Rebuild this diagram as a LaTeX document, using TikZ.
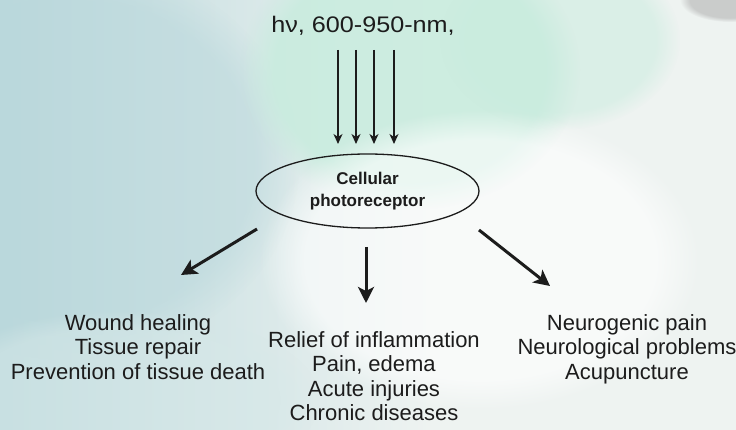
\documentclass[tikz,border=0pt]{standalone}
\usepackage{fontspec}
\setmainfont{Liberation Sans}
\newfontfamily\titlefont[FakeStretch=1.12]{Liberation Sans}
\usetikzlibrary{arrows.meta,shapes.geometric,fadings}
\definecolor{bgbase}{RGB}{238,243,241}
\definecolor{tealL}{RGB}{186,216,220}
\definecolor{mint}{RGB}{200,236,222}
\definecolor{paleT}{RGB}{214,232,232}
\definecolor{inkc}{RGB}{28,28,28}
\tikzset{
  thinarrow/.style={draw=inkc,line width=1.2pt,-{Stealth[length=10pt,width=9pt,inset=3pt]}},
  thickarrow/.style={draw=inkc,line width=3pt,-{Stealth[length=16pt,width=16pt,inset=4pt]}},
  blocktext/.style={text=inkc,font=\fontsize{22}{24.5}\selectfont,align=center,inner sep=0pt},
  receptor/.style={ellipse,draw=inkc,line width=1.3pt,minimum width=223pt,minimum height=74pt,inner sep=0pt,
    align=center,font=\bfseries\fontsize{17}{21.5}\selectfont,text=inkc}
}
\begin{document}
\begin{tikzpicture}[x=1pt,y=-1pt]
\useasboundingbox (0,0) rectangle (736,430);
% background wash
\fill[bgbase] (0,0) rectangle (736,430);
\fill[left color=tealL,right color=bgbase] (0,0) rectangle (430,430);
\fill[tealL,path fading=circle with fuzzy edge 20 percent,opacity=0.55] (70,160) ellipse (230 and 200);
\fill[mint,path fading=circle with fuzzy edge 20 percent,opacity=0.85] (410,70) ellipse (170 and 140);
\fill[mint,path fading=circle with fuzzy edge 20 percent,opacity=0.5] (560,40) ellipse (120 and 90);
\fill[white,path fading=circle with fuzzy edge 20 percent,opacity=0.6] (480,260) ellipse (220 and 150);
\fill[paleT,path fading=circle with fuzzy edge 20 percent,opacity=0.5] (120,400) ellipse (200 and 90);
\fill[gray!60,path fading=circle with fuzzy edge 20 percent,opacity=0.6] (730,0) ellipse (50 and 22);

% title
\node[text=inkc,font=\titlefont\fontsize{22.5}{26}\selectfont,inner sep=0pt,anchor=base] (title) at (363,33) {hν, 600-950-nm,};

% receptor
\node[receptor] (rec) at (367.5,191) {Cellular\\photoreceptor};

% incoming light arrows
\coordinate (s1) at (338,50); \coordinate (e1) at (338,144);
\coordinate (s2) at (356,50); \coordinate (e2) at (356,144);
\coordinate (s3) at (374,50); \coordinate (e3) at (374,144);
\coordinate (s4) at (394,50); \coordinate (e4) at (394,144);
\draw[thinarrow] (s1) -- (e1);
\draw[thinarrow] (s2) -- (e2);
\draw[thinarrow] (s3) -- (e3);
\draw[thinarrow] (s4) -- (e4);

% output texts
\node[blocktext,anchor=north] (left) at (138,314) {Wound healing\\Tissue repair\\Prevention of tissue death};
\node[blocktext,anchor=north] (mid) at (374,331) {Relief of inflammation\\Pain, edema\\Acute injuries\\Chronic diseases};
\node[blocktext,anchor=north] (right) at (627,314) {Neurogenic pain\\Neurological problems\\Acupuncture};

% outgoing arrows
\coordinate (la) at (257,229); \coordinate (lb) at (181,275);
\coordinate (ma) at (366,247); \coordinate (mb) at (366,303);
\coordinate (ra) at (479,230); \coordinate (rb) at (550,286);
\draw[thickarrow] (la) -- (lb);
\draw[thickarrow] (ma) -- (mb);
\draw[thickarrow] (ra) -- (rb);
\end{tikzpicture}
\end{document}
